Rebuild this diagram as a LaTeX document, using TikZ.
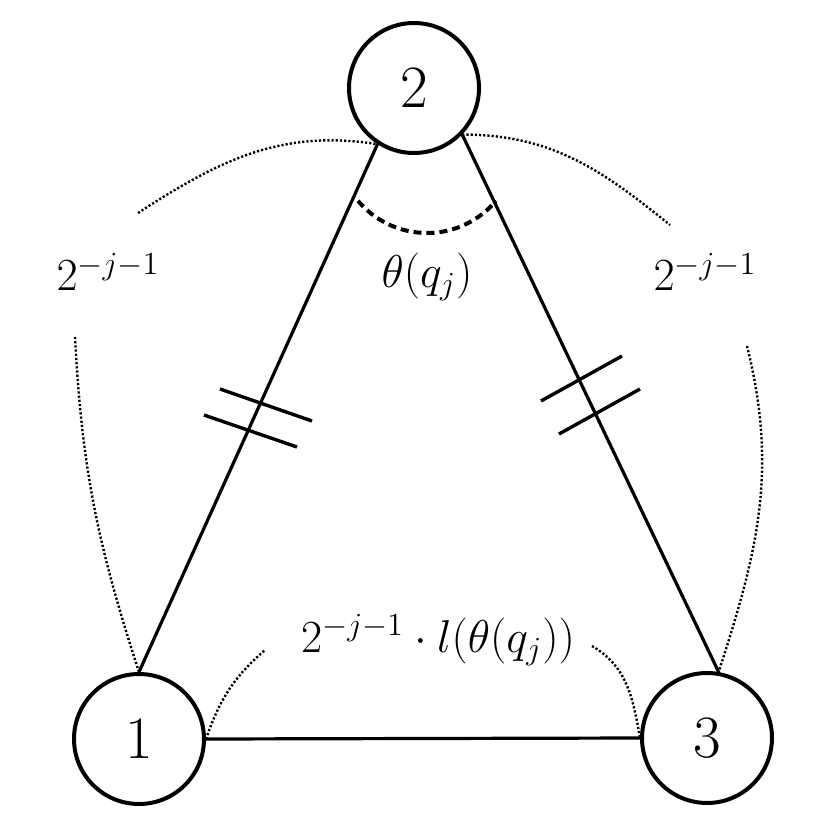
\RequirePackage{fix-cm}
\documentclass[tikz,border=0pt]{standalone}
\usepackage{amsmath}
\tikzset{>=stealth}
\tikzset{
    vertex/.style={circle, draw, line width=2pt, minimum size=65pt, inner sep=0pt, font=\fontsize{30}{32}\selectfont},
    side/.style={line width=1.6pt},
    tick/.style={line width=1.7pt},
    anglearc/.style={line width=2pt, dash pattern=on 4pt off 2.5pt},
    measure/.style={line width=1.2pt, dash pattern=on 1.1pt off 1pt},
    lbl/.style={font=\fontsize{23}{27}\selectfont, inner sep=0pt}
}

\begin{document}
\begin{tikzpicture}[x=0.5pt, y=-0.5pt]
    \useasboundingbox (0,0) rectangle (830,830);
    \node[vertex] (n1) at (139,739) {1};
    \node[vertex] (n2) at (414,88) {2};
    \node[vertex] (n3) at (707,738) {3};
    \draw[side] (n1.north) -- (n2.237);
    \draw[side] (n2.316) -- (n3.80);
    \draw[side] (n1.east) -- (n3.west);
    \foreach \x/\y/\u/\v in {220/389/312/421, 204/415/297/447, 541/401/622/356, 559/434/640/389}
    \draw[tick] (\x,\y) -- (\u,\v);
    \coordinate (ang) at (427,143);
    \draw[anglearc] (ang) ++(220:45pt) arc[start angle=220, end angle=320, radius=45pt];
    \node[lbl] (thq) at (427,277) {$\theta(q_j)$};
    \node[lbl] (lenl) at (108,272) {$2^{-j-1}$};
    \node[lbl] (lenr) at (705,272) {$2^{-j-1}$};
    \node[lbl] (lenb) at (438,640) {$2^{-j-1}\cdot l(\theta(q_j))$};
    \coordinate (l1) at (75,337);
    \coordinate (l2) at (138,213);
    \coordinate (r1) at (670,225);
    \coordinate (r2) at (747,346);
    \coordinate (b1) at (265,650);
    \coordinate (b2) at (592,646);
    \draw[measure] (n1.north) to[out=108, in=-87] (l1);
    \draw[measure] (l2) to[out=33, in=171] (n2.237);
    \draw[measure] (n2.316) to[out=0, in=141] (r1);
    \draw[measure] (r2) to[out=-76, in=72] (n3.80);
    \draw[measure] (n1.east) to[out=71, in=221] (b1);
    \draw[measure] (b2) to[out=-30, in=100] (n3.west);
\end{tikzpicture}
\end{document}
